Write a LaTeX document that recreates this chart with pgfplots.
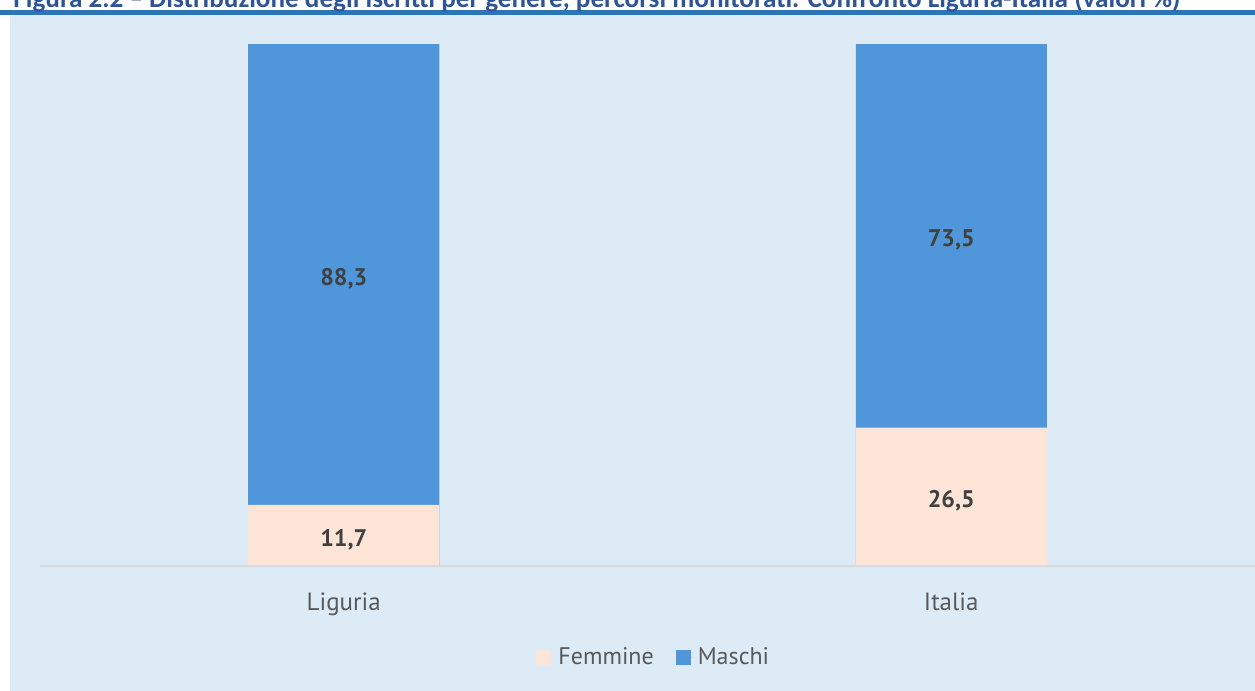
\documentclass[border=0pt]{standalone}
\usepackage{fontspec}
\usepackage{pgfplots}
\pgfplotsset{compat=1.18}
\setmainfont{PT Sans}
\newfontfamily\titlefont{Carlito}
\definecolor{bg}{HTML}{DDEBF7}
\definecolor{rule}{HTML}{2E75B6}
\definecolor{ttl}{HTML}{2F5597}
\definecolor{masc}{HTML}{4F96DA}
\definecolor{femm}{HTML}{FCE4D6}
\definecolor{lbl}{HTML}{404040}
\definecolor{tck}{HTML}{595959}
\definecolor{axl}{HTML}{D9D9D9}
\begin{document}
\begin{tikzpicture}
\useasboundingbox (0,0) rectangle (627.5pt,-345.5pt);
\clip (0,0) rectangle (627.5pt,-345.5pt);
\fill[rule] (0,-5pt) rectangle (627.5pt,-7.25pt);
\fill[bg] (5pt,-7.25pt) rectangle (627.5pt,-345.5pt);
\node[anchor=base west, inner sep=0pt, text=ttl] at (6.5pt,-3.6pt)
  {\resizebox{583.5pt}{!}{\titlefont\bfseries Figura 2.2 – Distribuzione degli iscritti per genere, percorsi monitorati. Confronto Liguria-Italia (valori \%)}};
\begin{axis}[
  at={(20pt,-283pt)}, anchor=south west,
  scale only axis, width=607.5pt, height=261pt,
  xmin=-0.5, xmax=1.5, ymin=0, ymax=100,
  axis line style={draw=none},
  ytick=\empty,
  xtick={0,1}, xticklabels={Liguria, Italia},
  major tick length=0pt,
  xticklabel style={anchor=base, yshift=-22pt, font=\fontsize{12.5}{15}\selectfont, text=tck},
  ybar, bar width=95.5pt, bar shift=0pt,
  clip=false,
  legend style={at={(0.506,-0.176)}, anchor=center, draw=none, fill=none,
    font=\fontsize{12}{14}\selectfont, text=tck, legend columns=2,
    /tikz/every even column/.append style={column sep=9pt}},
  legend image code/.code={\path (0pt,0pt) -- (9pt,0pt);\fill[#1] (0pt,-3.75pt) rectangle (7.5pt,3.75pt);},
  nodes near coords style={font=\bfseries\fontsize{12}{14}\selectfont, text=lbl, anchor=center},
  /pgf/number format/.cd, fixed, fixed zerofill, precision=1, use comma, assume math mode=true,
]
\addlegendimage{fill=femm, draw=none}
\addlegendentry{Femmine}
\addlegendimage{fill=masc, draw=none}
\addlegendentry{Maschi}
% Maschi bar drawn from 0 to total (100), Femmine drawn on top of it
\addplot[fill=masc, draw=none, forget plot] coordinates {(0,100) (1,100)};
\addplot[fill=femm, draw=none, forget plot] coordinates {(0,11.7) (1,26.5)};
% labels at segment centres
\addplot[draw=none, mark=none, forget plot, ybar=0pt, bar width=0pt,
  point meta=explicit, nodes near coords, nodes near coords align={center},
  every node near coord/.append style={anchor=center, yshift=-2pt}]
  coordinates {(0,5.85) [11.7] (1,13.25) [26.5] (0,55.85) [88.3] (1,63.25) [73.5]};
\draw[axl, line width=1pt] (rel axis cs:0,0) -- (rel axis cs:1,0);
\end{axis}
\end{tikzpicture}
\end{document}
